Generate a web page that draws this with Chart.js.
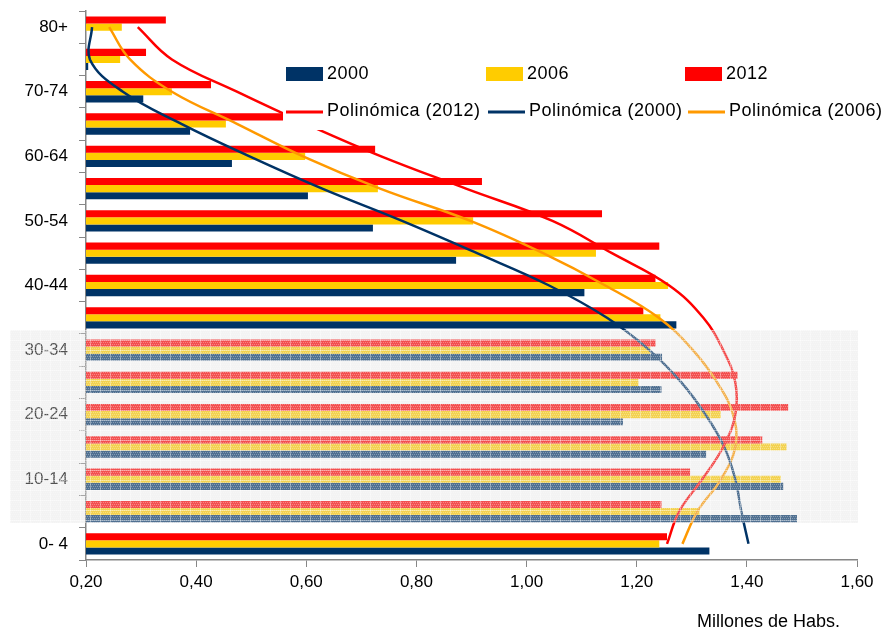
<!DOCTYPE html>
<html>
<head>
<meta charset="utf-8">
<script src="https://cdn.jsdelivr.net/npm/chart.js@4.4.1/dist/chart.umd.min.js"></script>
<style>
body { margin: 0; background: #fff; }
</style>
</head>
<body>
<canvas id="piramide" width="881" height="633"></canvas>
<script>
// age groups, bottom to top (0-4 ... 80+)
const ageGroups = ['0- 4', '5-9', '10-14', '15-19', '20-24', '25-29', '30-34', '35-39', '40-44',
    '45-49', '50-54', '55-59', '60-64', '65-69', '70-74', '75-79', '80+'];

// millions of inhabitants
const pop2000 = [1.332, 1.491, 1.466, 1.326, 1.175, 1.245, 1.246, 1.272, 1.105, 0.872, 0.721, 0.603, 0.465, 0.389, 0.304, 0.204, 0.200];
const pop2006 = [1.241, 1.314, 1.462, 1.472, 1.353, 1.203, 1.225, 1.243, 1.257, 1.126, 0.903, 0.730, 0.598, 0.454, 0.356, 0.262, 0.265];
const pop2012 = [1.255, 1.245, 1.297, 1.428, 1.475, 1.383, 1.234, 1.212, 1.234, 1.241, 1.137, 0.919, 0.725, 0.570, 0.427, 0.309, 0.345];

// polynomial trend lines
const trend2000 = [1.403, 1.390, 1.379, 1.359, 1.325, 1.281, 1.223, 1.146, 1.041, 0.910, 0.774, 0.629, 0.497, 0.374, 0.267, 0.207, 0.211];
const trend2006 = [1.283, 1.310, 1.353, 1.379, 1.375, 1.346, 1.302, 1.240, 1.143, 1.030, 0.898, 0.734, 0.594, 0.475, 0.356, 0.280, 0.242];
const trend2012 = [1.255, 1.277, 1.319, 1.357, 1.379, 1.379, 1.357, 1.321, 1.259, 1.155, 1.047, 0.890, 0.736, 0.600, 0.474, 0.356, 0.294];

const xTicks = [0.2, 0.4, 0.6, 0.8, 1.0, 1.2, 1.4, 1.6];
const years = ['2000', '2006', '2012'];
const xTitle = 'Millones de Habs.';

const NAVY = '#003366';
const YELLOW = '#ffcc00';
const RED = '#ff0000';
const ORANGE = '#ff9900';
const FONT = 'Liberation Sans, Arial, sans-serif';

// chart draws top to bottom
const topDown = arr => arr.slice().reverse();

function makeBandPattern(ctx) {
    const c = document.createElement('canvas');
    c.width = 10;
    c.height = 10;
    const p = c.getContext('2d');
    p.fillStyle = 'rgba(222,222,222,0.36)';
    p.fillRect(0, 0, 10, 10);
    p.fillStyle = 'rgba(255,255,255,0.3)';
    for (let j = 0; j < 10; j += 2) {
        for (let i = (j / 2) % 2; i < 10; i += 2) p.fillRect(i, j, 1, 1);
    }
    p.fillStyle = 'rgba(255,255,255,0.35)';
    p.fillRect(0, 0, 10, 1);
    p.fillRect(0, 0, 1, 10);
    return ctx.createPattern(c, 'repeat');
}

const legendBox = {
    id: 'legendBox',
    afterDatasetsDraw(chart) {
        const ctx = chart.ctx;
        ctx.save();
        ctx.fillStyle = '#fff';
        ctx.fillRect(283, 56, 598, 74);

        ctx.font = '18px ' + FONT;
        ctx.letterSpacing = '0.5px';
        ctx.textBaseline = 'middle';
        ctx.fillStyle = '#000';

        const boxColors = [NAVY, YELLOW, RED];
        const boxX = [286, 486, 685];
        years.forEach((y, i) => {
            ctx.fillStyle = boxColors[i];
            ctx.fillRect(boxX[i], 67, 37, 14);
            ctx.fillStyle = '#000';
            ctx.fillText(y, boxX[i] + 41, 74);
        });

        const lineOrder = [['2012', RED], ['2000', NAVY], ['2006', ORANGE]];
        const lineX = [286, 488, 688];
        lineOrder.forEach((l, i) => {
            ctx.strokeStyle = l[1];
            ctx.lineWidth = 3;
            ctx.beginPath();
            ctx.moveTo(lineX[i], 112);
            ctx.lineTo(lineX[i] + 37, 112);
            ctx.stroke();
            ctx.fillStyle = '#000';
            ctx.fillText('Polinómica (' + l[0] + ')', lineX[i] + 41, 111);
        });
        ctx.restore();
    },
    afterDraw(chart) {
        const ctx = chart.ctx;
        ctx.save();
        // x axis unit label
        ctx.font = '18px ' + FONT;
        ctx.fillStyle = '#000';
        ctx.textAlign = 'right';
        ctx.textBaseline = 'middle';
        ctx.fillText(xTitle, 840, 622);
        // shaded band over the 5-34 rows
        ctx.fillStyle = makeBandPattern(ctx);
        ctx.fillRect(10, 330, 848, 193);
        ctx.restore();
    }
};

const ctx = document.getElementById('piramide').getContext('2d');
new Chart(ctx, {
    type: 'bar',
    data: {
        labels: topDown(ageGroups),
        datasets: [
            { label: 'Polinómica (2012)', type: 'line', indexAxis: 'y', data: topDown(trend2012), borderColor: RED, borderWidth: 2.5, pointRadius: 0, tension: 0.4, order: 0 },
            { label: 'Polinómica (2000)', type: 'line', indexAxis: 'y', data: topDown(trend2000), borderColor: NAVY, borderWidth: 2.5, pointRadius: 0, tension: 0.4, order: 0 },
            { label: 'Polinómica (2006)', type: 'line', indexAxis: 'y', data: topDown(trend2006), borderColor: ORANGE, borderWidth: 2.5, pointRadius: 0, tension: 0.4, order: 0 },
            { label: '2012', data: topDown(pop2012), backgroundColor: RED, order: 1 },
            { label: '2006', data: topDown(pop2006), backgroundColor: YELLOW, order: 1 },
            { label: '2000', data: topDown(pop2000), backgroundColor: NAVY, order: 1 }
        ]
    },
    options: {
        indexAxis: 'y',
        responsive: false,
        animation: false,
        layout: { padding: { top: 11, right: 24, left: 0, bottom: 0 } },
        datasets: {
            bar: { categoryPercentage: 0.66, barPercentage: 1.0 }
        },
        plugins: {
            legend: { display: false },
            tooltip: { enabled: false }
        },
        scales: {
            x: {
                min: 0.2,
                max: 1.6,
                afterBuildTicks: s => { s.ticks = xTicks.map(v => ({ value: v })); },
                afterFit: s => { s.height = 73; },
                grid: { drawOnChartArea: false, tickLength: 7, color: '#868686' },
                border: { color: '#868686', width: 1.5 },
                ticks: {
                    color: '#000',
                    padding: 5,
                    font: { size: 17, family: FONT },
                    maxRotation: 0,
                    callback: v => v.toFixed(2).replace('.', ',')
                }
            },
            y: {
                type: 'category',
                offset: true,
                afterFit: s => { s.width = 86; s.paddingTop = 0; s.paddingBottom = 0; },
                grid: { drawOnChartArea: false, offset: true, tickLength: 7, color: '#868686' },
                border: { color: '#868686', width: 1.5 },
                ticks: {
                    autoSkip: false,
                    color: '#000',
                    padding: 11,
                    font: { size: 17, family: FONT },
                    callback: function (v, i) { return i % 2 === 0 ? this.getLabelForValue(v) : ''; }
                }
            }
        }
    },
    plugins: [legendBox]
});
</script>
</body>
</html>
